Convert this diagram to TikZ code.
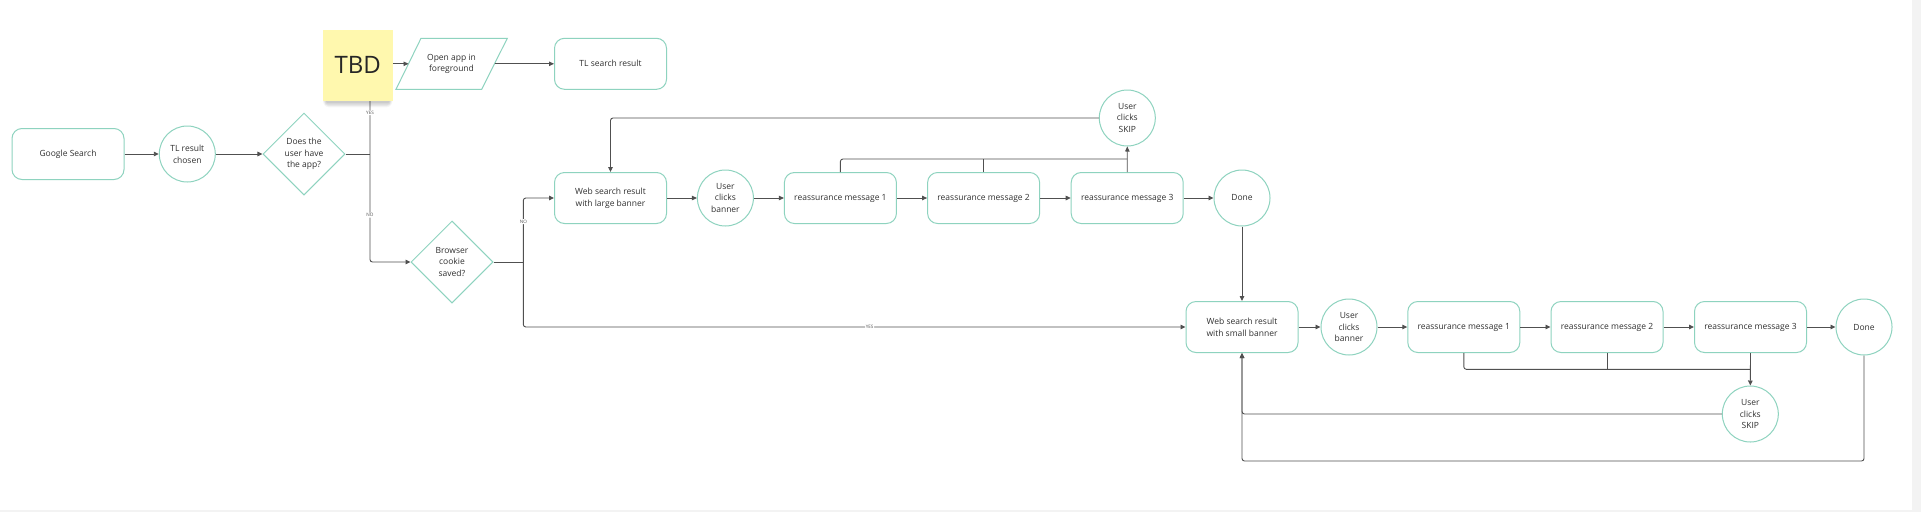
\documentclass[tikz,border=0pt]{standalone}
\usepackage{fontspec}
\setmainfont{Open Sans}
\usetikzlibrary{arrows.meta,shapes.geometric}
\definecolor{nodeb}{HTML}{8ED3BF}
\definecolor{lin}{HTML}{505050}
\definecolor{txt}{HTML}{303030}
\definecolor{sticky}{HTML}{FFF8AE}
\definecolor{framec}{HTML}{F3F3F3}
\begin{document}
\begin{tikzpicture}[x=1pt,y=-1pt,
  every node/.style={font=\fontsize{8.5}{11.7}\selectfont, text=txt, align=center},
  rbox/.style={draw=nodeb, line width=1pt, rounded corners=10pt, minimum width=112pt, minimum height=51pt, inner sep=0pt},
  circ/.style={draw=nodeb, line width=1pt, circle, minimum size=56pt, inner sep=0pt},
  dia/.style={draw=nodeb, line width=1pt, diamond, minimum width=82pt, minimum height=82pt, inner sep=0pt},
  conn/.style={draw=lin, line width=0.9pt, rounded corners=2.5pt},
  arr/.style={conn, -{Triangle[length=5pt,width=4.5pt]}},
  lbl/.style={font=\fontsize{4.6}{5}\selectfont, fill=white, inner sep=0.8pt, text=lin}]
\fill[framec] (0,0) rectangle (1921,512);
\fill[white] (0,0) rectangle (1912,510);
\useasboundingbox (0,0) rectangle (1921,512);

% nodes
\node[rbox] (gs) at (68,154) {Google Search};
\node[circ] (tlr) at (187.3,154) {TL result\\chosen};
\node[dia] (app) at (304,154) {Does the\\user have\\the app?};
\draw[draw=nodeb, line width=1pt] (396,89.3) -- (421,38.3) -- (507.3,38.3) -- (481.7,89.3) -- cycle;
\node (open) at (451.5,63.8) {Open app in\\foreground};
\coordinate (pl) at (408.5,63.8);
\coordinate (pr) at (494.5,63.8);
\node[rbox] (tls) at (610.5,63.8) {TL search result};
\node[dia] (cookie) at (452,262) {Browser\\cookie\\saved?};
\node[rbox] (wl) at (610.5,198) {Web search result\\with large banner};
\node[circ] (ucba) at (725.4,198) {User\\clicks\\banner};
\node[rbox] (ra1) at (840.4,198) {reassurance message 1};
\node[rbox] (ra2) at (983.6,198) {reassurance message 2};
\node[rbox] (ra3) at (1127.2,198) {reassurance message 3};
\node[circ] (skipa) at (1127.3,118) {User\\clicks\\SKIP};
\node[circ] (donea) at (1242,198) {Done};
\node[rbox] (ws) at (1242,327) {Web search result\\with small banner};
\node[circ] (ucbb) at (1349,327) {User\\clicks\\banner};
\node[rbox] (rb1) at (1463.8,327) {reassurance message 1};
\node[rbox] (rb2) at (1607,327) {reassurance message 2};
\node[rbox] (rb3) at (1750.5,327) {reassurance message 3};
\node[circ] (skipb) at (1750.3,414) {User\\clicks\\SKIP};
\node[circ] (doneb) at (1864,327) {Done};

% connectors
\draw[arr] (gs) -- (tlr);
\draw[arr] (tlr) -- (app);
\coordinate (j1) at (370,154);
\coordinate (j1t) at (370,100.7);
\draw[conn] (app.east) -- (j1);
\draw[arr] (j1t) -- node[lbl,pos=0.225]{YES} (j1) -- node[lbl,pos=0.565]{NO} (j1 |- cookie.west) -- (cookie.west);
\draw[arr] (pl -| 392.7,0) -- (pl);
\draw[arr] (pr) -- (tls.west);
\coordinate (j2) at (523.3,262);
\draw[conn] (cookie.east) -- (j2);
\draw[arr] (j2) -- node[lbl,pos=0.63]{NO} (j2 |- wl.west) -- (wl.west);
\draw[arr] (j2) -- (j2 |- ws.west) -- node[lbl,pos=0.523]{YES} (ws.west);

\draw[arr] (wl) -- (ucba);
\draw[arr] (ucba) -- (ra1);
\draw[arr] (ra1) -- (ra2);
\draw[arr] (ra2) -- (ra3);
\draw[arr] (ra3) -- (donea);
\draw[arr] (skipa.west) -| (wl.north);
\coordinate (ht) at (1127.2,159);
\draw[conn] (ra1.north) |- (ht);
\draw[conn] (ra2.north) -- (ra2.north |- ht);
\draw[arr] (ra3.north) -- (skipa.south);
\draw[arr] (donea.south) -- (ws.north);

\draw[arr] (ws) -- (ucbb);
\draw[arr] (ucbb) -- (rb1);
\draw[arr] (rb1) -- (rb2);
\draw[arr] (rb2) -- (rb3);
\draw[arr] (rb3) -- (doneb);
\coordinate (hb) at (1750.5,369.3);
\draw[conn] (rb1.south) |- (hb);
\draw[conn] (rb2.south) -- (rb2.south |- hb);
\draw[arr] (rb3.south) -- (skipb.north);
\draw[arr] (skipb.west) -| (ws.south);
\coordinate (bl) at (1242,461);
\draw[arr] (doneb.south) |- (bl) -- (ws.south);

% sticky note soft shadow
\foreach \k in {1,...,6} {
  \fill[black, opacity=0.035, rounded corners=\k pt]
    (322.7+4-\k*0.6, 40+\k*0.2) rectangle (392.7-4+\k*0.6, 100.7+1.2+\k*0.9);
}
\node[fill=sticky, minimum width=70pt, minimum height=70.7pt, inner sep=0pt,
  font=\fontsize{24}{24}\selectfont, text=black!85] (tbd) at (357.7,65.3) {TBD};
\end{tikzpicture}
\end{document}
